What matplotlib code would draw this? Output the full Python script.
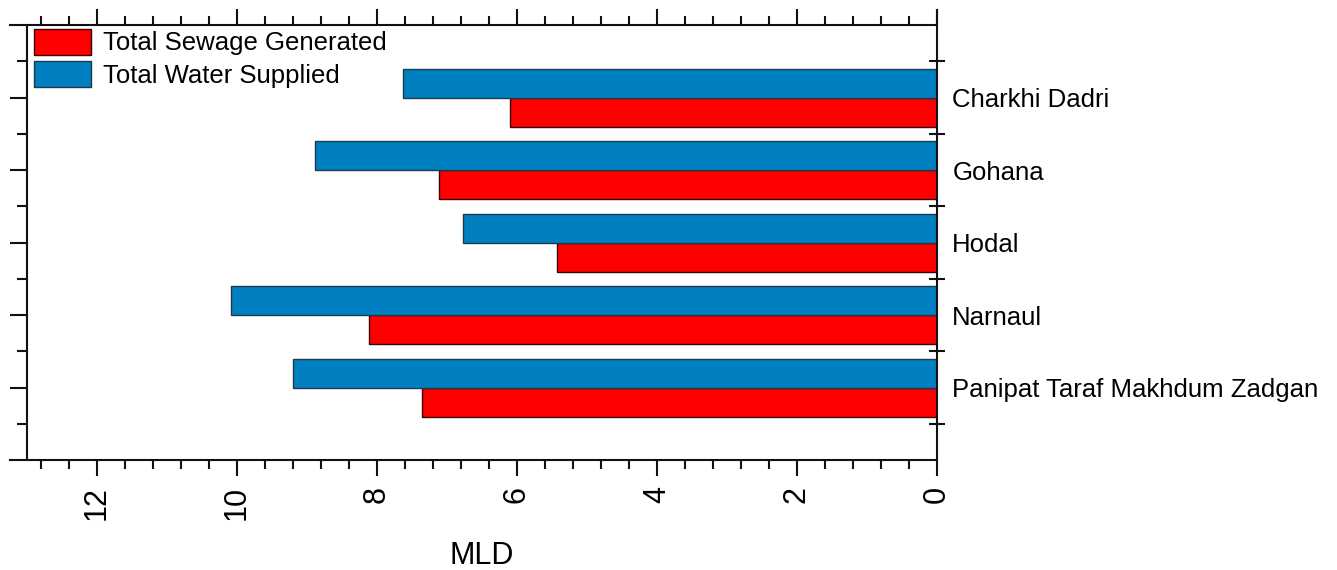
import numpy as np
import matplotlib
matplotlib.use("Agg")
import matplotlib.pyplot as plt
from matplotlib.ticker import FixedLocator, MultipleLocator, NullFormatter

plt.rcParams['font.family'] = ['Liberation Sans', 'DejaVu Sans']

cities = ['Charkhi Dadri', 'Gohana', 'Hodal', 'Narnaul', 'Panipat Taraf Makhdum Zadgan']
sewage = [6.10, 7.11, 5.43, 8.11, 7.35]
water = [7.63, 8.89, 6.77, 10.09, 9.20]
series_labels = ['Total Sewage Generated', 'Total Water Supplied']
xlabel = 'MLD'

RED = '#FF0000'
BLUE = '#0080C0'

W, H = 1337, 570
fig = plt.figure(figsize=(W / 100, H / 100), dpi=100)
ax = fig.add_axes([10 / W, 110 / H, 927 / W, 450 / H])

y = np.arange(len(cities))
hs = ax.barh(y + 0.2, sewage, height=0.4, color=RED, edgecolor='#3a0000', linewidth=1.0, label=series_labels[0])
hw = ax.barh(y - 0.2, water, height=0.4, color=BLUE, edgecolor='#1c3a4c', linewidth=1.0, label=series_labels[1])

ax.set_xlim(13.24, 0)
ax.set_ylim(5.0, -1.207)

lw = 1.5
for s in ax.spines.values():
    s.set_linewidth(lw)
    s.set_color('#111111')
ax.spines['top'].set_position(('data', -1.0))
ax.spines['left'].set_position(('data', 13.0))
ax.spines['left'].set_bounds(-1.0, 5.0)

# x axis ticks
ax.xaxis.set_major_locator(MultipleLocator(2))
ax.xaxis.set_minor_locator(FixedLocator(np.round(np.arange(0, 12.81, 0.4), 2)))
ax.tick_params(axis='x', which='both', top=True, bottom=True, labeltop=False,
               direction='out', width=lw, color='#111111')
ax.tick_params(axis='x', which='major', length=11.5, labelsize=22, labelrotation=90, pad=7)
ax.tick_params(axis='x', which='minor', length=6.3)

# left y ticks
ax.yaxis.set_major_locator(FixedLocator(y))
ax.yaxis.set_minor_locator(FixedLocator(np.arange(len(cities) + 1) - 0.5))
ax.tick_params(axis='y', which='both', left=True, right=False, labelleft=False,
               direction='out', width=lw, color='#111111')
ax.tick_params(axis='y', which='major', length=12)
ax.tick_params(axis='y', which='minor', length=7)

# right side: labels at centres, inout ticks at boundaries
ax2 = ax.twinx()
ax2.set_ylim(ax.get_ylim())
for s in ax2.spines.values():
    s.set_visible(False)
ax2.yaxis.set_major_locator(FixedLocator(y))
ax2.set_yticklabels(cities)
ax2.yaxis.set_minor_locator(FixedLocator(np.arange(len(cities) + 1) - 0.5))
ax2.yaxis.set_minor_formatter(NullFormatter())
ax2.tick_params(axis='y', which='major', length=0, labelsize=18.5, pad=11)
ax2.tick_params(axis='y', which='minor', direction='inout', length=12, width=lw, color='#111111')

ax.set_xlabel(xlabel, fontsize=22)
ax.xaxis.set_label_coords(0.509, -0.18)

leg = ax.legend(handles=[hs, hw], labels=series_labels, loc='upper left',
                bbox_to_anchor=(34 / W, 1 - 29 / H), bbox_transform=fig.transFigure,
                frameon=False, fontsize=18.5, borderpad=0, borderaxespad=0,
                handlelength=2.2, handleheight=1.15, handletextpad=0.5,
                labelspacing=0.22)

fig.savefig('out.png', dpi=100)
